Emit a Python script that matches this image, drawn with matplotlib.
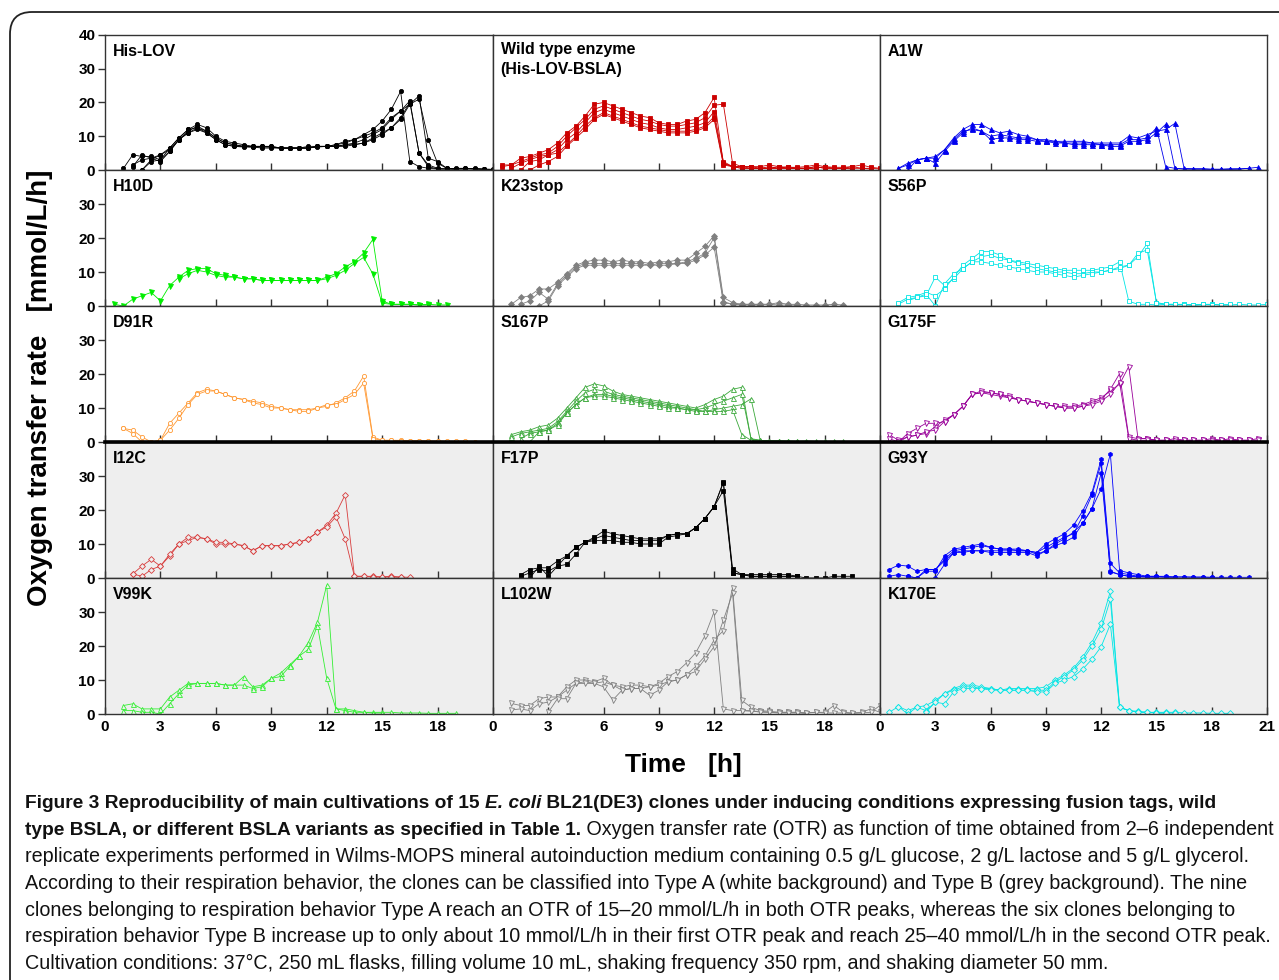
import numpy as np
import matplotlib
matplotlib.use("Agg")
import matplotlib.pyplot as plt
from matplotlib.patches import FancyBboxPatch
from matplotlib.lines import Line2D

# OTR replicates: (start time [h], values every 0.5 h) in mmol/L/h
HIS_LOV = [
    (1.0, [0.5, 4.5, 4.0, 4.0, 3.0, 6.5, 9.5, 12.0, 13.5, 12.5, 10.0, 8.5, 8.0, 7.5, 7.0, 7.0, 7.0, 6.5, 6.5, 6.5,
           6.5, 7.0, 7.0, 7.5, 8.5, 9.0, 10.5, 12.0, 14.5, 18.0, 23.3, 2.5, 1.0, 0.5, 0.3, 0.3, 0.5, 0.5, 0.3, 0.2, 0.1]),
    (1.5, [1.5, 3.0, 3.5, 2.5, 5.5, 9.0, 11.5, 13.0, 11.5, 9.5, 8.0, 7.5, 7.0, 7.0, 7.0, 6.8, 6.5, 6.5, 6.5, 6.5,
           6.8, 7.0, 7.0, 7.5, 7.5, 8.0, 9.0, 10.5, 12.5, 15.5, 20.0, 5.0, 1.5, 0.5, 0.3, 0.3, 0.5, 0.3, 0.2, 0.1]),
    (2.0, [0.0, 3.0, 4.5, 6.0, 9.0, 11.0, 12.5, 11.0, 9.0, 7.5, 7.0, 7.0, 6.8, 6.8, 6.8, 6.5, 6.5, 6.5, 6.5, 7.0,
           7.0, 7.0, 7.0, 7.5, 8.0, 9.5, 11.0, 12.5, 15.0, 19.5, 22.0, 3.5, 2.5, 0.5, 0.3, 0.3, 0.3, 0.2]),
    (1.5, [1.0, 4.5, 3.5, 4.5, 6.5, 9.5, 12.0, 12.5, 11.5, 9.5, 8.0, 7.5, 7.0, 7.0, 7.0, 7.0, 6.5, 6.5, 6.5, 6.5,
           7.0, 7.0, 7.0, 7.5, 8.0, 9.0, 10.5, 12.0, 15.0, 17.5, 19.5, 21.0, 9.0, 2.0, 0.5, 0.3, 0.3, 0.5, 0.3, 0.2]),
    (2.0, [0.0, 2.5, 3.0, 5.5, 9.0, 11.0, 12.0, 11.0, 9.0, 7.5, 7.0, 6.8, 6.8, 6.5, 6.5, 6.5, 6.5, 6.5, 7.0, 7.0,
           7.0, 7.5, 8.0, 9.0, 10.0, 11.0, 12.5, 15.5, 17.5, 20.5, 5.0, 1.0, 0.3, 0.3, 0.2]),
]
WILD_TYPE = [
    (0.5, [1.5, 1.5, 3.5, 4.0, 5.0, 6.0, 8.0, 11.0, 13.0, 16.0, 19.5, 20.0, 19.0, 18.0, 17.0, 16.0, 15.5, 14.0, 13.5, 13.5,
           14.5, 15.0, 17.0, 21.5, 2.0, 1.0, 1.0, 1.0, 1.0, 1.5, 1.0, 0.8, 0.8, 1.0, 1.5, 1.0, 0.8, 0.8, 1.0, 1.5, 0.8, 0.5]),
    (0.5, [1.0, 1.5, 2.5, 3.5, 4.5, 5.0, 7.0, 10.0, 12.5, 15.0, 18.0, 19.0, 18.0, 17.0, 16.0, 15.0, 14.5, 13.5, 13.0, 13.0,
           13.5, 14.0, 15.5, 19.2, 19.5, 2.0, 1.0, 1.0, 0.5, 1.0, 0.5, 1.0, 0.5, 0.5, 1.0, 0.5, 0.5, 0.5, 1.0, 0.5, 0.5, 0.3]),
    (1.0, [0.5, 2.0, 3.0, 4.0, 4.5, 6.0, 9.0, 11.0, 14.0, 17.0, 18.0, 17.0, 16.0, 15.0, 14.0, 13.5, 12.5, 12.0, 12.0, 12.5,
           13.0, 14.0, 17.3, 2.5, 1.0, 1.0, 0.5, 0.5, 0.5, 1.0, 0.5, 0.5, 0.5, 0.5, 1.0, 0.5, 0.5, 0.5, 0.5, 0.3]),
    (1.5, [0.0, 2.5, 3.0, 4.5, 5.0, 7.5, 10.0, 13.0, 15.5, 17.0, 16.0, 15.0, 14.0, 13.0, 12.5, 12.0, 11.5, 11.5, 11.5, 12.0,
           13.0, 15.8, 2.0, 1.0, 0.5, 0.5, 0.5, 0.5, 0.5, 0.5, 0.5, 0.5, 1.0, 0.5, 0.5, 0.5, 0.3]),
    (2.0, [0.0, 1.5, 2.5, 4.0, 7.0, 9.5, 12.0, 15.0, 16.5, 15.5, 14.5, 13.5, 12.5, 12.0, 11.5, 11.0, 11.0, 11.0, 11.5, 12.5,
           15.0, 1.5, 1.0, 0.5, 0.5, 0.5, 0.5, 0.5, 0.5, 0.5, 0.5, 0.3]),
]
A1W = [
    (1.0, [0.5, 2.0, 3.0, 3.5, 3.5, 6.0, 9.5, 12.0, 13.5, 13.5, 12.0, 11.0, 11.5, 10.5, 10.0, 9.0, 9.0, 8.5, 8.5, 8.5,
           8.5, 8.0, 8.0, 8.0, 8.0, 10.0, 9.5, 10.5, 11.5, 12.0, 13.8, 0.5, 0.3, 0.3, 0.2, 0.2, 0.3, 0.3, 0.5, 0.8]),
    (1.5, [0.0, 3.0, 3.5, 2.0, 5.5, 8.5, 11.0, 12.5, 11.5, 9.0, 9.5, 9.5, 9.0, 9.0, 8.5, 8.5, 8.0, 8.0, 7.5, 7.5,
           7.5, 7.5, 7.0, 7.0, 8.5, 8.5, 9.0, 11.0, 13.5, 0.5, 0.3, 0.3, 0.3, 0.2, 0.2, 0.2, 0.3, 0.5]),
    (1.0, [0.5, 1.5, 3.0, 3.5, 4.0, 6.0, 9.0, 11.5, 12.0, 11.5, 10.0, 10.5, 10.0, 9.5, 9.5, 9.0, 8.5, 8.5, 8.0, 8.0,
           8.0, 8.0, 7.5, 7.5, 7.5, 9.0, 9.0, 9.5, 12.5, 1.0, 0.5, 0.3, 0.3, 0.3, 0.2, 0.2, 0.3, 0.3]),
]
H10D = [
    (0.5, [0.5, 0.0, 2.0, 3.0, 4.0, 1.5, 6.0, 8.5, 10.5, 11.0, 11.0, 9.5, 9.0, 8.5, 8.0, 8.0, 7.5, 7.5, 7.5, 7.5,
           7.5, 7.5, 7.5, 8.5, 9.5, 11.5, 13.0, 15.6, 19.6, 1.5, 0.5, 0.5, 0.5, 0.3, 0.5, 0.3, 0.3]),
    (4.0, [8.0, 9.5, 10.5, 10.0, 9.0, 8.5, 8.5, 8.0, 8.0, 7.5, 7.5, 7.5, 7.5, 7.5, 7.5, 7.5, 8.0, 9.0, 10.5, 12.5,
           14.3, 9.4, 0.8, 0.5, 0.5, 0.5, 0.3, 0.3]),
]
K23STOP = [
    (1.0, [0.5, 2.5, 3.0, 5.0, 5.0, 7.0, 9.5, 12.0, 13.0, 13.5, 13.5, 13.0, 13.5, 13.0, 13.0, 12.5, 13.0, 13.0, 13.5, 13.5,
           15.5, 17.5, 20.7, 2.5, 1.0, 0.5, 0.5, 0.5, 0.5, 1.0, 0.5, 0.5, 0.3, 0.3, 0.3, 0.5, 0.3]),
    (1.5, [0.5, 1.5, 4.0, 2.0, 6.5, 9.0, 11.5, 12.5, 12.5, 12.5, 12.5, 12.5, 12.5, 12.5, 12.0, 12.5, 12.5, 12.5, 13.0, 14.0,
           15.5, 20.1, 1.3, 0.5, 0.5, 0.5, 0.5, 0.5, 0.3, 0.3, 0.3]),
    (2.5, [0.0, 1.5, 6.0, 8.5, 11.0, 12.0, 12.0, 12.0, 12.0, 12.0, 12.0, 12.0, 12.0, 12.0, 12.0, 12.5, 12.5, 13.5, 15.0, 17.3,
           1.0, 0.5, 0.3, 0.3, 0.3]),
]
S56P = [
    (1.0, [0.5, 2.0, 2.5, 3.0, 8.5, 6.0, 8.0, 11.0, 13.0, 14.5, 15.0, 14.0, 13.5, 13.0, 12.5, 12.0, 11.5, 11.0, 10.5, 10.5,
           10.5, 10.5, 11.0, 11.5, 13.0, 1.4, 0.5, 0.5, 0.3, 0.5, 0.3, 0.5, 0.3, 0.3, 0.5, 0.3, 0.3, 0.5, 0.3, 0.3, 0.5]),
    (1.0, [1.0, 2.5, 3.0, 4.0, 3.0, 5.0, 8.5, 12.0, 14.0, 16.0, 16.0, 15.0, 13.5, 12.5, 12.0, 11.0, 10.5, 10.0, 10.0, 9.5,
           9.5, 10.0, 10.0, 10.5, 11.0, 12.0, 14.5, 18.4, 1.0, 0.5, 0.5, 0.5, 0.3, 0.5, 0.5, 0.3, 0.5]),
    (1.5, [1.5, 2.5, 3.5, 0.0, 6.5, 9.5, 11.0, 13.0, 13.0, 12.5, 12.0, 11.5, 11.0, 10.5, 10.0, 10.0, 9.5, 9.0, 8.5, 9.0,
           9.5, 10.0, 10.5, 11.5, 12.0, 15.5, 16.5, 1.0, 0.5, 0.5, 0.3, 0.3, 0.5, 0.3]),
]
D91R = [
    (1.0, [4.0, 3.5, 1.5, 0.0, 0.5, 5.5, 8.5, 11.5, 14.5, 15.5, 15.0, 14.0, 13.0, 12.5, 12.0, 11.5, 10.5, 10.0, 9.5, 9.5,
           9.5, 10.0, 10.5, 11.5, 13.0, 15.0, 19.4, 1.5, 0.5, 0.5, 0.5, 0.3, 0.3, 0.3, 0.3, 0.2, 0.2, 0.2, 0.1]),
    (1.0, [4.0, 2.5, 0.0, 0.0, 0.5, 3.5, 7.0, 11.0, 14.0, 15.0, 15.0, 14.0, 13.0, 12.5, 11.5, 11.0, 10.0, 10.0, 9.5, 9.0,
           9.0, 10.0, 11.0, 11.0, 12.5, 14.0, 17.3, 1.0, 0.5, 0.5, 0.3, 0.3, 0.3, 0.2]),
]
S167P = [
    (1.0, [2.2, 3.0, 3.5, 4.5, 5.0, 7.0, 10.0, 13.0, 16.1, 17.1, 16.5, 15.0, 14.0, 13.5, 13.0, 12.5, 12.0, 11.5, 11.0, 10.5,
           10.0, 11.0, 12.5, 13.5, 15.5, 16.1, 0.8, 0.5, 0.3, 0.3, 0.3, 0.2, 0.3, 0.2, 0.2, 0.2, 0.2]),
    (1.0, [1.5, 2.5, 3.0, 3.5, 4.0, 6.0, 9.0, 12.0, 14.5, 15.5, 15.0, 14.0, 13.5, 13.0, 12.5, 12.0, 11.5, 11.0, 10.5, 10.0,
           9.5, 10.0, 11.0, 12.0, 13.0, 14.0, 1.0, 0.5, 0.3, 0.3, 0.2, 0.2]),
    (1.5, [1.0, 2.5, 3.0, 3.5, 5.5, 8.5, 11.0, 13.0, 14.0, 14.0, 13.5, 13.0, 12.5, 12.0, 11.5, 11.0, 10.5, 10.0, 9.5, 9.5,
           9.0, 9.5, 10.0, 10.5, 11.0, 12.7, 0.5, 0.3, 0.3, 0.2]),
    (2.0, [0.0, 3.0, 3.5, 5.0, 8.5, 11.0, 13.0, 13.5, 13.5, 13.0, 12.5, 12.0, 11.5, 11.0, 10.5, 10.0, 10.0, 9.5, 9.0, 9.0,
           9.0, 9.0, 9.5, 2.2, 0.5, 0.3, 0.3, 0.2]),
]
G175F = [
    (0.5, [2.2, 0.5, 1.5, 2.0, 2.5, 4.5, 6.5, 8.0, 10.5, 14.0, 15.0, 14.5, 14.0, 13.5, 12.5, 12.0, 11.5, 11.0, 10.5, 10.5,
           10.5, 11.0, 12.0, 13.0, 15.0, 17.0, 22.2, 1.0, 1.0, 0.5, 0.5, 0.5, 0.5, 0.5, 0.5, 1.0, 0.5, 0.5, 0.5, 0.5, 1.0]),
    (0.5, [1.0, 0.0, 2.5, 4.0, 5.5, 5.5, 6.0, 8.0, 10.5, 14.0, 14.5, 14.0, 13.5, 13.0, 12.5, 12.0, 11.5, 11.0, 10.5, 10.0,
           10.0, 10.5, 11.5, 12.5, 15.5, 20.1, 1.5, 1.0, 1.0, 0.5, 0.5, 1.0, 0.5, 0.5, 0.5, 0.5, 0.5, 1.0, 0.5, 0.5, 0.5]),
    (1.0, [0.0, 1.5, 2.0, 3.0, 3.5, 6.0, 8.0, 10.5, 14.0, 14.5, 14.5, 14.0, 13.0, 12.5, 12.0, 11.5, 11.0, 10.5, 10.0, 10.0,
           10.5, 11.0, 12.0, 14.0, 17.5, 1.0, 0.5, 0.5, 0.5, 0.5, 0.3, 0.5, 0.5, 0.5, 0.3, 0.5, 0.5, 0.5, 0.5]),
]
I12C = [
    (1.5, [1.2, 3.5, 5.5, 3.5, 6.5, 10.0, 11.0, 12.0, 11.5, 10.0, 10.0, 10.0, 9.5, 8.0, 9.5, 9.5, 9.5, 10.0, 10.5, 11.5,
           13.5, 15.5, 19.0, 24.5, 0.5, 0.5, 0.5, 0.3, 0.5, 0.3, 0.2]),
    (1.5, [1.2, 0.5, 2.5, 3.5, 7.0, 10.0, 12.0, 12.0, 11.5, 10.5, 10.5, 10.0, 9.5, 8.0, 9.5, 9.5, 9.5, 10.0, 10.5, 11.5,
           13.5, 15.0, 18.0, 11.5, 0.5, 0.5, 0.3, 0.3, 0.3, 0.2]),
]
F17P = [
    (1.5, [1.0, 2.5, 3.0, 3.0, 5.0, 6.5, 9.0, 10.5, 12.0, 13.8, 13.0, 12.5, 12.0, 11.5, 11.5, 11.5, 12.5, 13.0, 13.0, 14.8,
           17.5, 21.0, 28.3, 2.7, 1.0, 1.0, 1.0, 1.0, 1.0, 1.0, 0.5, 0.0, 0.0, 0.0, 0.5, 0.5, 0.5]),
    (1.5, [0.5, 1.5, 2.5, 2.0, 3.5, 6.5, 9.0, 10.5, 11.5, 12.5, 12.0, 11.5, 11.0, 11.0, 11.0, 11.0, 12.5, 13.0, 13.0, 14.8,
           17.5, 21.0, 25.7, 1.5, 1.0, 0.5, 0.5, 0.5, 0.5, 0.5, 0.5]),
    (2.0, [0.0, 3.5, 0.5, 3.5, 4.0, 7.0, 10.5, 11.0, 11.0, 11.0, 10.5, 10.5, 10.0, 10.0, 10.0, 12.0, 12.5, 13.0, 14.8, 17.5,
           21.0, 28.0, 1.5, 1.0, 0.5, 0.5, 0.5, 0.5, 0.5, 0.5]),
]
G93Y = [
    (0.5, [2.5, 3.8, 3.5, 2.0, 2.5, 2.5, 5.0, 7.5, 8.0, 8.0, 8.0, 7.5, 7.5, 7.5, 7.5, 7.5, 6.5, 8.0, 10.0, 11.5,
           13.5, 16.1, 20.4, 26.2, 36.5, 2.2, 1.5, 1.0, 0.5, 0.5, 0.5, 0.3, 0.3, 0.3, 0.3, 0.2, 0.2, 0.2, 0.2, 0.2]),
    (0.5, [0.5, 1.0, 0.5, 0.0, 2.0, 2.0, 6.5, 8.5, 9.0, 9.5, 10.0, 9.0, 8.5, 8.5, 8.5, 8.0, 7.5, 10.0, 11.5, 13.0,
           15.5, 19.7, 25.1, 34.9, 4.3, 1.5, 1.0, 0.5, 0.5, 0.5, 0.3, 0.3, 0.3, 0.2, 0.2, 0.2]),
    (1.5, [0.5, 0.0, 2.5, 2.5, 5.5, 8.0, 8.5, 9.0, 9.5, 9.0, 8.5, 8.5, 8.0, 8.0, 7.5, 9.0, 10.5, 12.0, 13.0, 18.2,
           24.4, 33.7, 1.8, 1.0, 0.5, 0.5, 0.3, 0.3, 0.2, 0.2]),
    (3.0, [0.0, 4.0, 7.5, 7.5, 8.0, 8.0, 8.0, 8.0, 8.0, 8.0, 8.0, 7.0, 8.0, 9.5, 10.5, 12.0, 16.1, 20.4, 30.8, 2.0,
           1.0, 0.5, 0.3, 0.3, 0.2]),
]
V99K = [
    (1.0, [2.5, 3.0, 1.5, 1.5, 1.5, 5.0, 7.0, 9.0, 9.0, 9.0, 9.0, 8.5, 8.5, 11.0, 8.0, 8.5, 10.5, 12.0, 14.5, 17.0,
           21.0, 27.0, 37.9, 1.5, 1.5, 1.0, 0.5, 0.5, 0.5, 0.5, 0.3, 0.3, 0.3, 0.2, 0.2, 0.2, 0.2]),
    (1.0, [1.0, 1.0, 0.5, 0.5, 0.0, 3.0, 6.0, 8.5, 9.0, 9.0, 9.0, 8.5, 8.5, 8.5, 7.5, 8.0, 10.5, 11.0, 14.0, 17.0,
           19.0, 26.0, 10.5, 1.5, 1.0, 0.5, 0.5, 0.3, 0.3]),
]
L102W = [
    (1.0, [3.1, 2.5, 2.5, 4.5, 5.0, 5.0, 8.0, 10.0, 10.0, 9.5, 10.5, 8.5, 8.0, 8.5, 8.5, 8.0, 9.0, 11.0, 12.5, 15.0,
           18.0, 23.0, 30.1, 1.5, 1.0, 1.0, 0.8, 0.8, 0.5, 0.5, 0.5, 0.5, 0.3, 0.5, 0.5, 2.5, 0.5, 0.3, 0.5, 1.5, 0.5, 0.3]),
    (1.0, [1.2, 1.5, 1.0, 3.0, 3.5, 5.0, 7.0, 9.0, 9.5, 9.0, 9.5, 8.5, 7.0, 7.5, 7.5, 8.0, 8.5, 9.5, 10.0, 11.5,
           14.0, 17.0, 21.8, 24.5, 37.2, 4.0, 2.0, 1.0, 0.8, 0.5, 0.5, 0.5, 0.3, 0.5, 0.3, 0.3, 0.3, 0.2, 0.3, 0.5, 2.5]),
    (3.0, [0.5, 4.5, 4.5, 9.0, 9.0, 9.0, 8.0, 4.1, 7.0, 7.5, 7.5, 5.5, 7.0, 9.5, 10.0, 11.5, 12.5, 16.2, 19.8, 27.6,
           35.5, 1.0, 1.0, 0.5, 0.5, 0.3, 0.3, 0.3, 0.2]),
]
K170E = [
    (0.5, [0.5, 2.2, 1.0, 2.0, 2.5, 4.0, 6.0, 7.5, 8.5, 8.5, 8.0, 7.5, 7.0, 7.5, 7.5, 7.5, 7.5, 8.0, 10.0, 11.5,
           13.5, 16.7, 21.0, 26.7, 36.1, 2.0, 1.0, 0.8, 0.5, 0.5, 0.5, 0.5, 0.3, 0.3, 0.3, 0.2, 0.2, 0.2]),
    (1.0, [2.2, 0.0, 2.0, 1.0, 3.5, 6.0, 7.0, 8.0, 8.0, 7.5, 7.5, 7.0, 7.0, 7.0, 7.0, 7.0, 7.0, 9.5, 11.0, 13.0,
           15.9, 20.0, 24.9, 33.7, 2.0, 1.0, 0.5, 0.5, 0.3, 0.3, 0.3]),
    (2.5, [0.5, 3.5, 3.0, 6.5, 7.5, 7.5, 7.5, 7.0, 7.0, 7.0, 7.0, 7.0, 6.5, 6.5, 9.0, 10.0, 11.0, 13.2, 16.1, 19.8,
           26.4, 2.0, 1.0, 0.5, 0.5, 0.3, 0.3]),
]

PANEL_NAMES = ["His-LOV", "Wild type enzyme\n(His-LOV-BSLA)", "A1W",
               "H10D", "K23stop", "S56P",
               "D91R", "S167P", "G175F",
               "I12C", "F17P", "G93Y",
               "V99K", "L102W", "K170E"]
PANEL_DATA = [HIS_LOV, WILD_TYPE, A1W, H10D, K23STOP, S56P, D91R, S167P, G175F,
              I12C, F17P, G93Y, V99K, L102W, K170E]
# colour, marker, filled
PANEL_STYLE = [("#000000", "o", True), ("#cc0000", "s", True), ("#0000ee", "^", True),
               ("#00ee00", "v", True), ("#808080", "D", True), ("#00e5e5", "s", False),
               ("#ff9933", "o", False), ("#3aa83a", "^", False), ("#990099", "v", False),
               ("#d83c3c", "D", False), ("#000000", "s", True), ("#0000ff", "h", True),
               ("#33ee33", "^", False), ("#808080", "v", False), ("#00e5e5", "D", False)]

W, H = 1279, 980
COL_EDGES = [105, 493, 880, 1267]
ROW_EDGES = [35, 170, 306, 442, 578, 714]
GREY = "#eeeeee"

plt.rcParams["font.family"] = ["Liberation Sans", "DejaVu Sans"]
fig = plt.figure(figsize=(W / 100, H / 100), dpi=100)

for i, (name, reps, (col, mk, filled)) in enumerate(zip(PANEL_NAMES, PANEL_DATA, PANEL_STYLE)):
    r, c = divmod(i, 3)
    x0, x1 = COL_EDGES[c], COL_EDGES[c + 1]
    y0, y1 = ROW_EDGES[r], ROW_EDGES[r + 1]
    ax = fig.add_axes([x0 / W, 1 - y1 / H, (x1 - x0) / W, (y1 - y0) / H])
    bg = GREY if r >= 3 else "white"
    ax.set_facecolor(bg)
    for t0, vals in reps:
        t = t0 + 0.5 * np.arange(len(vals))
        ax.plot(t, vals, color=col, lw=0.6, marker=mk, ms=3.6 if mk in "^v" else 3.0,
                mfc=col if filled else bg, mec=col, mew=0.6)
    ax.set_xlim(0, 21)
    ax.set_ylim(0, 40)
    for sp in ax.spines.values():
        sp.set_color("#333333")
        sp.set_linewidth(1.0)

    xt = [0, 3, 6, 9, 12, 15, 18] + ([21] if c == 2 else [])
    ax.set_xticks(xt)
    ax.tick_params(axis="x", direction="in", length=5, width=1, color="#333333", pad=4)
    if r == 4:
        ax.set_xticklabels([str(v) for v in xt], fontsize=11, fontweight="bold")
    else:
        ax.set_xticklabels([])

    if c == 0:
        yt = [0, 10, 20, 30] + ([40] if r == 0 else [])
        ax.set_yticks(yt)
        ax.set_yticklabels([str(v) for v in yt], fontsize=11, fontweight="bold")
        ax.tick_params(axis="y", direction="out", length=5, width=1, color="#333333", pad=2)
    else:
        ax.set_yticks([])

    ax.text(0.02, 0.935 if "\n" not in name else 0.95, name, transform=ax.transAxes,
            ha="left", va="top", fontsize=11.5, fontweight="bold", linespacing=1.4)

# thick separator between Type A and Type B
fig.add_artist(Line2D([COL_EDGES[0] / W, COL_EDGES[-1] / W], [1 - 442 / H] * 2,
                      color="black", lw=2.6))

fig.text(40 / W, 1 - 388 / H, "Oxygen transfer rate   [mmol/L/h]", rotation=90,
         ha="center", va="center", fontsize=20, fontweight="bold")
fig.text(683 / W, 1 - 765 / H, "Time   [h]", ha="center", va="center",
         fontsize=19, fontweight="bold")

# outer frame with rounded corner
frame = FancyBboxPatch((0.10, -1.0), 14.0, 10.68, boxstyle="round,pad=0,rounding_size=0.22",
                       transform=fig.dpi_scale_trans, fill=False, ec="#222222", lw=1.3,
                       clip_on=False)
fig.add_artist(frame)

# caption
CAP_FONT = ["Liberation Sans Narrow", "Liberation Sans", "DejaVu Sans"]
caption_lines = [
    [("Figure 3 Reproducibility of main cultivations of 15 ", "bold", "normal"),
     ("E. coli", "bold", "italic"),
     (" BL21(DE3) clones under inducing conditions expressing fusion tags, wild", "bold", "normal")],
    [("type BSLA, or different BSLA variants as specified in Table 1.", "bold", "normal"),
     (" Oxygen transfer rate (OTR) as function of time obtained from 2\u20136 independent", "normal", "normal")],
    [("replicate experiments performed in Wilms-MOPS mineral autoinduction medium containing 0.5 g/L glucose, 2 g/L lactose and 5 g/L glycerol.", "normal", "normal")],
    [("According to their respiration behavior, the clones can be classified into Type A (white background) and Type B (grey background). The nine", "normal", "normal")],
    [("clones belonging to respiration behavior Type A reach an OTR of 15\u201320 mmol/L/h in both OTR peaks, whereas the six clones belonging to", "normal", "normal")],
    [("respiration behavior Type B increase up to only about 10 mmol/L/h in their first OTR peak and reach 25\u201340 mmol/L/h in the second OTR peak.", "normal", "normal")],
    [("Cultivation conditions: 37\u00b0C, 250 mL flasks, filling volume 10 mL, shaking frequency 350 rpm, and shaking diameter 50 mm.", "normal", "normal")],
]
renderer = fig.canvas.get_renderer()


def text_width(s, size, weight, style):
    t = fig.text(0, 0, s, fontsize=size, fontweight=weight, fontstyle=style, family=CAP_FONT)
    w = t.get_window_extent(renderer).width
    t.remove()
    return w


# fit sizes to the original line widths, then shrink so no line passes the right edge
reg_size = 10 * 1243 / text_width(caption_lines[2][0][0], 10, "normal", "normal")
bold_size = 10 * 1210 / sum(text_width(s, 10, wgt, sty) for s, wgt, sty in caption_lines[0])
widest = max(sum(text_width(s, bold_size if wgt == "bold" else reg_size, wgt, sty)
                 for s, wgt, sty in line) for line in caption_lines)
shrink = min(1.0, 1246 / widest)
reg_size *= shrink
bold_size *= shrink

baseline = 808
for line in caption_lines:
    x = 25
    for s, wgt, sty in line:
        size = bold_size if wgt == "bold" else reg_size
        t = fig.text(x / W, 1 - baseline / H, s, fontsize=size, fontweight=wgt, fontstyle=sty,
                     family=CAP_FONT, ha="left", va="baseline", color="#111111")
        x += t.get_window_extent(renderer).width
    baseline += 26.9

fig.savefig("out.png", dpi=100)
